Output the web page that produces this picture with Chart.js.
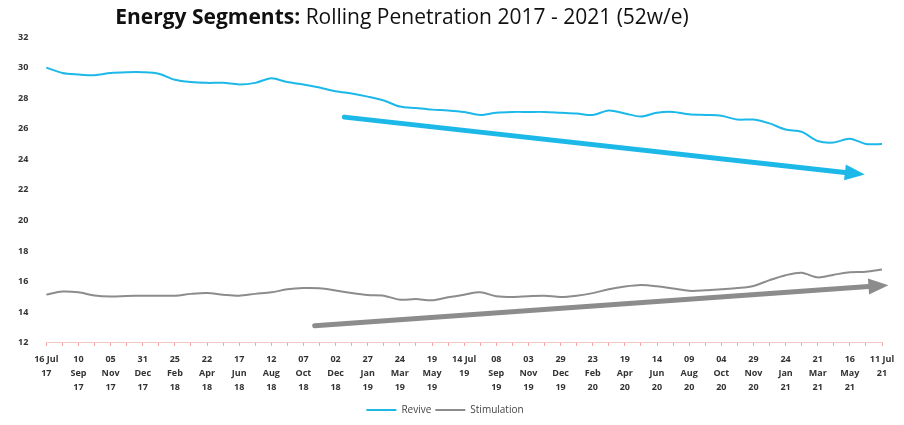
<!DOCTYPE html>
<html>
<head>
<meta charset="utf-8">
<script src="https://cdn.jsdelivr.net/npm/chart.js@4"></script>
<style>
  body { margin: 0; background: #fff; }
  .wrap { position: relative; width: 904px; height: 425px; }
  .title {
    position: absolute; left: 0; top: 2px; width: 804px; text-align: center;
    font-family: "Open Sans", "Liberation Sans", sans-serif; font-size: 21px; color: #111;
  }
  canvas { position: absolute; left: 0; top: 0; }
</style>
</head>
<body>
<div class="wrap">
  <canvas id="myChart" width="904" height="425"></canvas>
  <div class="title"><b>Energy Segments:</b> Rolling Penetration 2017 - 2021 (52w/e)</div>
</div>
<script>
// tick labels, every 8 weeks (a data point every 4 weeks)
const tickLabels = [
  ['16 Jul', '17'], ['10', 'Sep', '17'], ['05', 'Nov', '17'], ['31', 'Dec', '17'],
  ['25', 'Feb', '18'], ['22', 'Apr', '18'], ['17', 'Jun', '18'], ['12', 'Aug', '18'],
  ['07', 'Oct', '18'], ['02', 'Dec', '18'], ['27', 'Jan', '19'], ['24', 'Mar', '19'],
  ['19', 'May', '19'], ['14 Jul', '19'], ['08', 'Sep', '19'], ['03', 'Nov', '19'],
  ['29', 'Dec', '19'], ['23', 'Feb', '20'], ['19', 'Apr', '20'], ['14', 'Jun', '20'],
  ['09', 'Aug', '20'], ['04', 'Oct', '20'], ['29', 'Nov', '20'], ['24', 'Jan', '21'],
  ['21', 'Mar', '21'], ['16', 'May', '21'], ['11 Jul', '21']
];

const revive = [
  30.0, 29.65, 29.55, 29.5, 29.65, 29.7, 29.7, 29.6, 29.2, 29.05,
  29.0, 29.0, 28.9, 29.0, 29.3, 29.05, 28.9, 28.7, 28.45, 28.3,
  28.1, 27.85, 27.45, 27.35, 27.25, 27.2, 27.1, 26.9, 27.05, 27.1,
  27.1, 27.1, 27.05, 27.0, 26.9, 27.2, 27.0, 26.8, 27.05, 27.1,
  26.95, 26.9, 26.85, 26.6, 26.6, 26.35, 25.95, 25.8, 25.2, 25.1,
  25.35, 25.0, 25.0
];

const stimulation = [
  15.15, 15.35, 15.3, 15.1, 15.03, 15.06, 15.08, 15.08, 15.08, 15.2,
  15.26, 15.15, 15.08, 15.2, 15.3, 15.5, 15.58, 15.56, 15.42, 15.25,
  15.12, 15.08, 14.82, 14.86, 14.78, 14.98, 15.15, 15.3, 15.05, 15.0,
  15.05, 15.08, 15.0, 15.08, 15.25, 15.5, 15.68, 15.78, 15.7, 15.55,
  15.4, 15.43, 15.5, 15.58, 15.72, 16.1, 16.42, 16.58, 16.28, 16.45,
  16.62, 16.65, 16.8
];

// trend arrows: [x index, value] start and end
const reviveArrow = [[18.55, 26.76], [50.93, 23.0]];
const stimArrow = [[16.7, 13.11], [52.4, 15.77]];

const blue = '#1cb8e8';
const grey = '#8c8c8c';

// point labels: only every second point carries a date
const labels = revive.map((v, i) => (i % 2 === 0 ? tickLabels[i / 2] : ''));

const drawArrow = (ctx, x1, y1, x2, y2, color, width, headLen, headW) => {
  const ang = Math.atan2(y2 - y1, x2 - x1);
  const bx = x2 - headLen * Math.cos(ang);
  const by = y2 - headLen * Math.sin(ang);
  ctx.save();
  ctx.strokeStyle = color;
  ctx.fillStyle = color;
  ctx.lineWidth = width;
  ctx.lineCap = 'round';
  ctx.beginPath();
  ctx.moveTo(x1, y1);
  ctx.lineTo(bx, by);
  ctx.stroke();
  ctx.beginPath();
  ctx.moveTo(x2, y2);
  ctx.lineTo(bx + headW / 2 * Math.sin(ang), by - headW / 2 * Math.cos(ang));
  ctx.lineTo(bx - headW / 2 * Math.sin(ang), by + headW / 2 * Math.cos(ang));
  ctx.closePath();
  ctx.fill();
  ctx.restore();
};

const arrowPlugin = {
  id: 'arrows',
  afterDatasetsDraw(chart) {
    const { ctx, scales: { x, y } } = chart;
    const p = (pt) => [x.getPixelForValue(pt[0]), y.getPixelForValue(pt[1])];
    let a = p(reviveArrow[0]), b = p(reviveArrow[1]);
    drawArrow(ctx, a[0], a[1], b[0], b[1], blue, 5, 20, 16);
    a = p(stimArrow[0]); b = p(stimArrow[1]);
    drawArrow(ctx, a[0], a[1], b[0], b[1], grey, 5, 20, 16);
  }
};

new Chart(document.getElementById('myChart'), {
  type: 'line',
  data: {
    labels: labels,
    datasets: [
      { label: 'Revive', data: revive, borderColor: blue, backgroundColor: blue,
        borderWidth: 2, pointRadius: 0, tension: 0.3 },
      { label: 'Stimulation', data: stimulation, borderColor: grey, backgroundColor: grey,
        borderWidth: 2, pointRadius: 0, tension: 0.3 }
    ]
  },
  options: {
    responsive: false,
    animation: false,
    layout: { padding: { top: 37, left: 8, right: 22, bottom: 0 } },
    plugins: {
      legend: {
        position: 'bottom',
        labels: {
          usePointStyle: true, pointStyle: 'line', pointStyleWidth: 30,
          boxHeight: 2, padding: 4,
          font: { family: 'Open Sans', size: 10 }, color: '#444'
        }
      },
      tooltip: { enabled: false }
    },
    scales: {
      x: {
        offset: false,
        grid: { drawOnChartArea: false, color: '#f2a0a0', tickLength: 3 },
        border: { color: '#f5c8c8', dash: [2, 2] },
        ticks: {
          autoSkip: false, maxRotation: 0, padding: 6,
          font: { family: 'Open Sans', size: 9, weight: 'bold', lineHeight: 1.6 }, color: '#333',
          callback: (v, i) => labels[i]
        }
      },
      y: {
        min: 12, max: 32,
        grid: { display: false },
        border: { display: false },
        ticks: {
          stepSize: 2, padding: 10,
          font: { family: 'Open Sans', size: 9, weight: 'bold' }, color: '#333'
        }
      }
    }
  },
  plugins: [arrowPlugin]
});
</script>
</body>
</html>
